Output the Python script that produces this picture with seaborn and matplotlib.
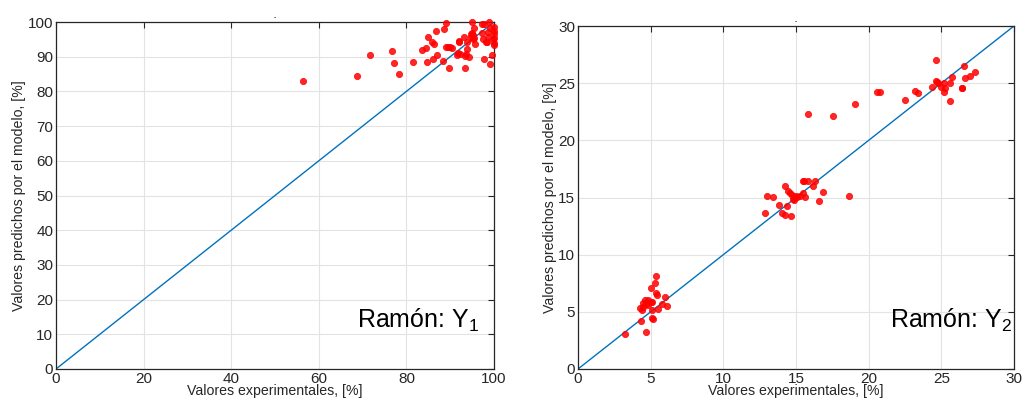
import matplotlib
matplotlib.use("Agg")
import matplotlib.pyplot as plt
import seaborn as sns
import pandas as pd
import numpy as np

# ---------------- data ----------------
y1_exp = [56.5, 68.8, 71.7, 76.8, 77.2, 78.2, 81.6, 83.5, 84.5, 84.8, 84.9, 85.8, 86.2, 86.0,
          86.7, 87.1, 88.3, 88.5, 89.0, 89.0, 89.4, 89.9, 90.3, 89.7, 91.9, 92.0, 91.6, 91.8,
          92.2, 93.2, 93.4, 93.3, 93.6, 94.3, 93.8, 93.9, 95.0, 94.7, 95.0, 95.3, 94.8, 95.5,
          95.2, 95.4, 95.6, 97.3, 97.8, 97.2, 97.5, 97.7, 98.2, 98.5, 98.7, 98.9, 98.6, 99.1,
          99.0, 99.5, 100.0, 100.0, 100.0, 100.0, 100.0, 100.0, 99.7]
y1_pred = [83.0, 84.3, 90.5, 91.6, 88.2, 84.9, 88.4, 91.9, 92.4, 88.6, 95.8, 94.3, 93.7, 89.2,
           97.4, 90.5, 88.7, 98.0, 99.8, 92.7, 92.8, 92.7, 92.6, 86.7, 94.6, 94.1, 90.5, 91.2,
           90.7, 95.8, 86.7, 90.2, 90.8, 89.9, 92.2, 94.1, 99.9, 96.4, 96.9, 96.2, 95.6, 95.4,
           95.0, 98.2, 93.7, 99.3, 99.3, 96.7, 95.0, 89.3, 94.3, 94.3, 97.0, 99.9, 95.8, 87.9,
           98.2, 90.5, 98.6, 97.5, 96.5, 95.4, 94.0, 93.4, 95.0]

y2_exp = [3.25, 4.35, 4.7, 4.27, 4.45, 4.5, 4.6, 4.8, 5.0, 5.1, 4.85, 4.65, 4.4, 5.05, 5.33,
          5.4, 5.4, 5.44, 5.07, 5.12, 5.16, 5.5, 5.8, 6.0, 6.15,
          12.84, 13.03, 13.44, 13.85, 14.04, 14.22, 14.22, 14.36, 14.45, 14.59, 14.63, 14.7,
          14.8, 14.85, 15.0, 15.1, 15.3, 15.46, 15.56, 15.8, 15.5, 15.64, 16.19, 16.28, 16.61,
          16.88, 18.62,
          15.8, 17.52, 19.04, 20.57, 20.78, 22.5, 23.19, 23.42, 24.36, 24.63, 24.6, 24.7, 24.8,
          24.98, 25.16, 25.25, 25.2, 25.6, 25.6, 25.74, 26.4, 26.45, 26.58, 26.65, 27.0, 27.3]
y2_pred = [3.1, 4.23, 3.27, 5.3, 5.4, 5.8, 6.0, 6.0, 5.9, 5.9, 5.6, 5.7, 5.15, 7.05, 7.55,
           8.12, 6.67, 6.45, 5.16, 4.5, 4.4, 5.25, 5.68, 6.27, 5.54,
           13.68, 15.16, 15.07, 14.32, 13.68, 13.44, 16.03, 14.29, 15.54, 15.39, 13.41, 15.2,
           14.9, 14.75, 15.1, 15.05, 15.1, 16.47, 16.47, 16.47, 15.4, 15.04, 16.03, 16.47, 14.73,
           15.48, 15.16,
           22.32, 22.14, 23.19, 24.27, 24.27, 23.57, 24.35, 24.18, 24.7, 27.06, 25.2, 25.1, 25.0,
           24.7, 25.0, 24.6, 24.2, 25.0, 23.48, 25.58, 24.55, 24.6, 26.54, 25.46, 25.64, 25.98]

panel_labels = ["Ramón: Y$_{1}$", "Ramón: Y$_{2}$"]
xlabel = "Valores experimentales, [%]"
ylabel = "Valores predichos por el modelo, [%]"

# ---------------- style ----------------
sns.set_theme(style="whitegrid")
plt.rcParams["font.family"] = ["Liberation Sans", "DejaVu Sans"]
plt.rcParams["mathtext.fontset"] = "custom"
plt.rcParams["mathtext.rm"] = "Liberation Sans"
plt.rcParams["mathtext.it"] = "Liberation Sans"

fig = plt.figure(figsize=(10.22, 4.01), dpi=100)
ax1 = fig.add_axes([56 / 1022, 1 - 369 / 401, 438 / 1022, 347 / 401])
ax2 = fig.add_axes([578 / 1022, 1 - 369 / 401, 436 / 1022, 343 / 401])

dark = "#262626"
red = "#ff0000"
blue = "#0072BD"

configs = [
    (ax1, y1_exp, y1_pred, 100, np.arange(0, 101, 20), np.arange(0, 101, 10), panel_labels[0], 96.6, 11.8),
    (ax2, y2_exp, y2_pred, 30, np.arange(0, 31, 5), np.arange(0, 31, 5), panel_labels[1], 29.85, 3.6),
]

for ax, xe, yp, lim, xt, yt, lab, tx, ty in configs:
    df = pd.DataFrame({"exp": xe, "pred": yp})
    diag = pd.DataFrame({"x": [0, lim], "y": [0, lim]})
    sns.lineplot(data=diag, x="x", y="y", ax=ax, color=blue, linewidth=1.0, zorder=2)
    sns.scatterplot(data=df, x="exp", y="pred", ax=ax, color=red, edgecolor=red,
                    s=20, alpha=0.85, linewidth=0.6, zorder=3, clip_on=False)
    ax.set_xlim(0, lim)
    ax.set_ylim(0, lim)
    ax.set_xticks(xt)
    ax.set_yticks(yt)
    ax.grid(True, color="#e3e3e3", linewidth=0.8)
    ax.set_facecolor("white")
    for sp in ax.spines.values():
        sp.set_visible(True)
        sp.set_color(dark)
        sp.set_linewidth(0.9)
    ax.tick_params(direction="in", top=True, right=True, length=4, width=0.8,
                   color=dark, labelcolor=dark, labelsize=11, pad=2)
    ax.set_xlabel(xlabel, fontsize=10.2, color=dark, labelpad=-1)
    ax.set_ylabel(ylabel, fontsize=10.2, color=dark, labelpad=1)
    ax.text(tx, ty, lab, ha="right", va="baseline", fontsize=18, color="black")
    ax.set_title("-", fontsize=5, color="black", pad=2)

fig.savefig("out.png", dpi=100)
